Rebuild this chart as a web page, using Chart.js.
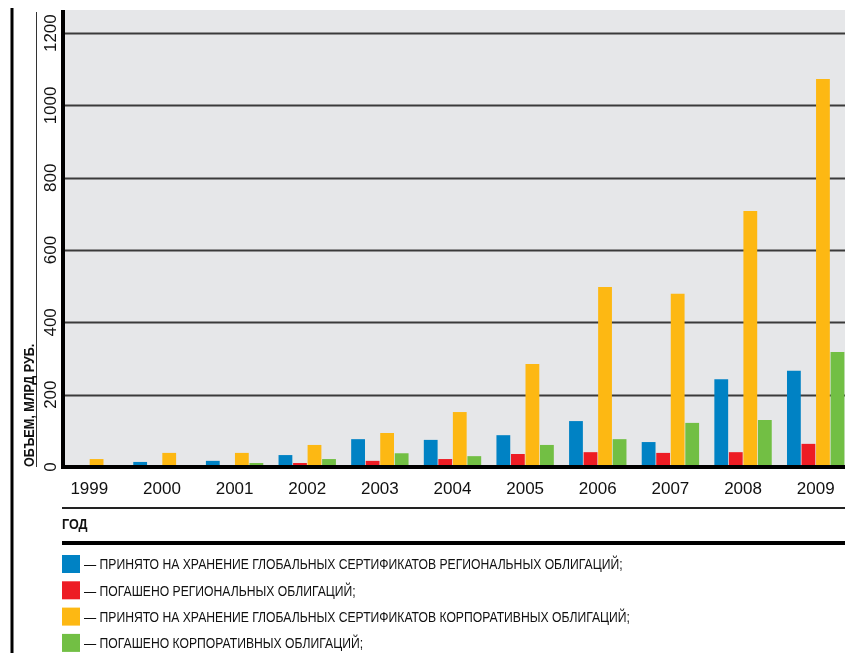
<!DOCTYPE html>
<html>
<head>
<meta charset="utf-8">
<script src="https://cdn.jsdelivr.net/npm/chart.js@4/dist/chart.umd.min.js"></script>
<style>
  html, body { margin: 0; padding: 0; background: #fff; overflow: hidden; }
  #wrap { position: absolute; left: 0; top: 0; width: 880px; height: 653px; }
</style>
</head>
<body>
<div id="wrap"><canvas id="chart" width="880" height="653"></canvas></div>
<script>
// data set
var years = ['1999', '2000', '2001', '2002', '2003', '2004', '2005', '2006', '2007', '2008', '2009'];
var regAccepted = [0, 14, 17, 33, 77, 75, 88, 127, 69, 243, 266];
var regRepaid = [0, 0, 0, 11, 17, 22, 36, 41, 39, 41, 64];
var corpAccepted = [22, 39, 39, 61, 94, 152, 285, 498, 479, 708, 1073];
var corpRepaid = [0, 0, 11, 22, 38, 30, 61, 77, 122, 130, 318];
var yTicks = [0, 200, 400, 600, 800, 1000, 1200];

var names = [
  'ПРИНЯТО НА ХРАНЕНИЕ ГЛОБАЛЬНЫХ СЕРТИФИКАТОВ РЕГИОНАЛЬНЫХ ОБЛИГАЦИЙ;',
  'ПОГАШЕНО РЕГИОНАЛЬНЫХ ОБЛИГАЦИЙ;',
  'ПРИНЯТО НА ХРАНЕНИЕ ГЛОБАЛЬНЫХ СЕРТИФИКАТОВ КОРПОРАТИВНЫХ ОБЛИГАЦИЙ;',
  'ПОГАШЕНО КОРПОРАТИВНЫХ ОБЛИГАЦИЙ;'
];
var colors = ['#0082c4', '#ed1c24', '#fdb813', '#72bf44'];

const AXIS_X = 63;
const FONT = '"Liberation Sans", Arial, sans-serif';

function narrowText(ctx, text, x, y, sx) {
  ctx.save();
  ctx.translate(x, y);
  ctx.scale(sx, 1);
  ctx.fillText(text, 0, 0);
  ctx.restore();
}

const decor = {
  id: 'decor',
  beforeDatasetsDraw(chart) {
    const ctx = chart.ctx;
    const a = chart.chartArea;
    const y = chart.scales.y;
    ctx.save();
    ctx.fillStyle = '#e6e7e9';
    ctx.fillRect(AXIS_X, a.top, chart.width - AXIS_X, a.bottom - a.top);
    ctx.strokeStyle = '#3a3a3a';
    ctx.lineWidth = 2;
    yTicks.forEach(v => {
      if (v === 0) return;
      const py = Math.round(y.getPixelForValue(v)) + 0.5;
      ctx.beginPath();
      ctx.moveTo(AXIS_X, py);
      ctx.lineTo(chart.width, py);
      ctx.stroke();
    });
    ctx.restore();
  },
  afterDatasetsDraw(chart) {
    const ctx = chart.ctx;
    const a = chart.chartArea;
    const x = chart.scales.x;
    const y = chart.scales.y;
    const zero = y.getPixelForValue(0);
    ctx.save();
    ctx.strokeStyle = '#000';
    // axes
    ctx.lineWidth = 4;
    ctx.beginPath();
    ctx.moveTo(AXIS_X, zero);
    ctx.lineTo(chart.width, zero);
    ctx.stroke();
    ctx.beginPath();
    ctx.moveTo(AXIS_X, a.top);
    ctx.lineTo(AXIS_X, zero + 2);
    ctx.stroke();
    // left frame
    ctx.lineWidth = 3;
    ctx.beginPath();
    ctx.moveTo(12, 8);
    ctx.lineTo(12, chart.height);
    ctx.stroke();
    ctx.lineWidth = 1;
    ctx.strokeStyle = '#333';
    ctx.beginPath();
    ctx.moveTo(36.5, 12);
    ctx.lineTo(36.5, zero);
    ctx.stroke();

    // y tick labels
    ctx.fillStyle = '#111';
    ctx.font = '17px ' + FONT;
    ctx.textAlign = 'center';
    ctx.textBaseline = 'middle';
    yTicks.forEach(v => {
      ctx.save();
      ctx.translate(50, y.getPixelForValue(v));
      ctx.rotate(-Math.PI / 2);
      ctx.fillText(String(v), 0, 1);
      ctx.restore();
    });

    // y title
    ctx.save();
    ctx.translate(30, zero);
    ctx.rotate(-Math.PI / 2);
    ctx.textAlign = 'left';
    ctx.font = 'bold 15px ' + FONT;
    narrowText(ctx, 'ОБЪЕМ, МЛРД РУБ.', 0, 0, 0.84);
    ctx.restore();

    // year labels
    ctx.font = '17px ' + FONT;
    ctx.textAlign = 'center';
    years.forEach((yr, i) => {
      ctx.fillText(yr, x.getPixelForValue(i), 489);
    });

    // separators
    ctx.strokeStyle = '#222';
    ctx.lineWidth = 2;
    ctx.beginPath();
    ctx.moveTo(AXIS_X - 1, 508);
    ctx.lineTo(chart.width, 508);
    ctx.stroke();
    ctx.lineWidth = 4;
    ctx.strokeStyle = '#000';
    ctx.beginPath();
    ctx.moveTo(AXIS_X - 1, 543);
    ctx.lineTo(chart.width, 543);
    ctx.stroke();

    ctx.textAlign = 'left';
    ctx.font = 'bold 15px ' + FONT;
    narrowText(ctx, 'ГОД', AXIS_X - 1, 525, 0.84);

    // legend
    ctx.font = '15.5px ' + FONT;
    chart.data.datasets.forEach((ds, i) => {
      const cy = 564 + i * 26.3;
      ctx.fillStyle = ds.backgroundColor;
      ctx.fillRect(AXIS_X - 1, cy - 9, 18, 18);
      ctx.fillStyle = '#111';
      narrowText(ctx, '— ' + ds.label, 84, cy + 1, 0.785);
    });
    ctx.restore();
  }
};

new Chart('chart', {
  type: 'bar',
  data: {
    labels: years,
    datasets: [
      { label: names[0], data: regAccepted, backgroundColor: colors[0] },
      { label: names[1], data: regRepaid, backgroundColor: colors[1] },
      { label: names[2], data: corpAccepted, backgroundColor: colors[2] },
      { label: names[3], data: corpRepaid, backgroundColor: colors[3] }
    ]
  },
  options: {
    responsive: false,
    animation: false,
    layout: { padding: { left: 53, right: 28, top: 10, bottom: 186 } },
    datasets: { bar: { categoryPercentage: 0.8, barPercentage: 0.95 } },
    plugins: {
      legend: { display: false },
      tooltip: { enabled: false }
    },
    scales: {
      x: {
        offset: true,
        grid: { display: false },
        border: { display: false },
        ticks: { display: false },
        afterFit: s => { s.height = 0; }
      },
      y: {
        min: 0,
        max: 1264,
        grid: { display: false },
        border: { display: false },
        ticks: { display: false },
        afterFit: s => { s.width = 0; }
      }
    }
  },
  plugins: [decor]
});
</script>
</body>
</html>
